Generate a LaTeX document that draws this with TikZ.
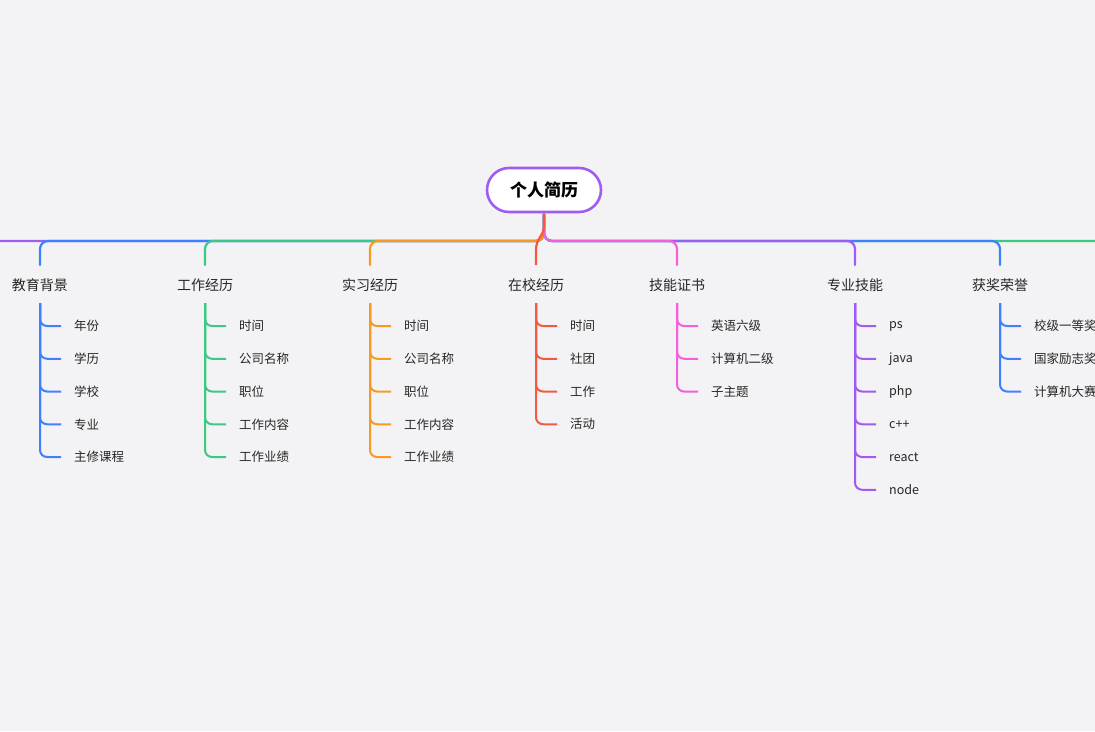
\documentclass[tikz,border=0pt]{standalone}
\usepackage{fontspec}
\setmainfont{Noto Sans CJK SC}
\begin{document}
\begin{tikzpicture}[x=1pt,y=-1pt,
  lk/.style={line width=2.2pt,rounded corners=8,line cap=round},
  lf/.style={line width=2pt,rounded corners=7},
  br/.style={font=\fontsize{14}{16}\selectfont,text=black!85,inner sep=1pt},
  leaf/.style={font=\fontsize{12.5}{14}\selectfont,text=black!85,anchor=west,inner sep=1pt}]
\definecolor{bg}{HTML}{F3F3F5}
\definecolor{cb}{HTML}{3F80FF}
\definecolor{cg}{HTML}{3CC984}
\definecolor{co}{HTML}{F59A23}
\definecolor{cr}{HTML}{F5583F}
\definecolor{cp}{HTML}{F45FDA}
\definecolor{cv}{HTML}{A05CF2}
\fill[bg] (0,0) rectangle (1095,731);
\useasboundingbox (0,0) rectangle (1095,731);
\node[draw=cv,line width=2.6pt,fill=white,rounded corners=22,minimum width=114,minimum height=44,font=\fontsize{17}{19}\selectfont\bfseries] (root) at (544,190) {个人简历};
\coordinate (rs) at (544,214);
% far branches first
\coordinate (bL) at (-100,265); \coordinate (bR) at (1200,265);
\draw[lk,cv] (rs) |- (-100,241);
\draw[lk,cg] (rs) |- (1200,241);
\def\branch#1#2#3#4{%
  \node[br] (#1) at (#2,285) {#4};
  \draw[lk,#3] (rs) |- (#2,241) -- (#2,265);}
\branch{b1}{40}{cb}{教育背景}
\branch{b2}{205}{cg}{工作经历}
\branch{b3}{370}{co}{实习经历}
\branch{b7}{1000}{cb}{获奖荣誉}
\branch{b6}{855}{cv}{专业技能}
\branch{b5}{677}{cp}{技能证书}
\node[br] (b4) at (536,285) {在校经历};
\draw[line width=2.2pt,cr] (rs) -- (544,226) .. controls (544,236) and (536,238) .. (536,250) -- (536,265);
\def\leaves#1#2#3{%
  \foreach \t [count=\i] in {#3} {
    \node[leaf] (#1l\i) at (#2+33,326+32.75*\i-32.75) {\t};
  }}
\def\lines#1#2#3#4{%
  \foreach \i in {1,...,#3} {
    \draw[lf,#4] (#1,303) |- (#1+21,326+32.75*\i-32.75);
  }}
\lines{40}{}{5}{cb}\leaves{b1}{40}{年份,学历,学校,专业,主修课程}
\lines{205}{}{5}{cg}\leaves{b2}{205}{时间,公司名称,职位,工作内容,工作业绩}
\lines{370}{}{5}{co}\leaves{b3}{370}{时间,公司名称,职位,工作内容,工作业绩}
\lines{536}{}{4}{cr}\leaves{b4}{536}{时间,社团,工作,活动}
\lines{677}{}{3}{cp}\leaves{b5}{677}{英语六级,计算机二级,子主题}
\lines{855}{}{6}{cv}\leaves{b6}{855}{ps,java,php,c++,react,node}
\lines{1000}{}{3}{cb}\leaves{b7}{1000}{校级一等奖,国家励志奖,计算机大赛}
\end{tikzpicture}
\end{document}
